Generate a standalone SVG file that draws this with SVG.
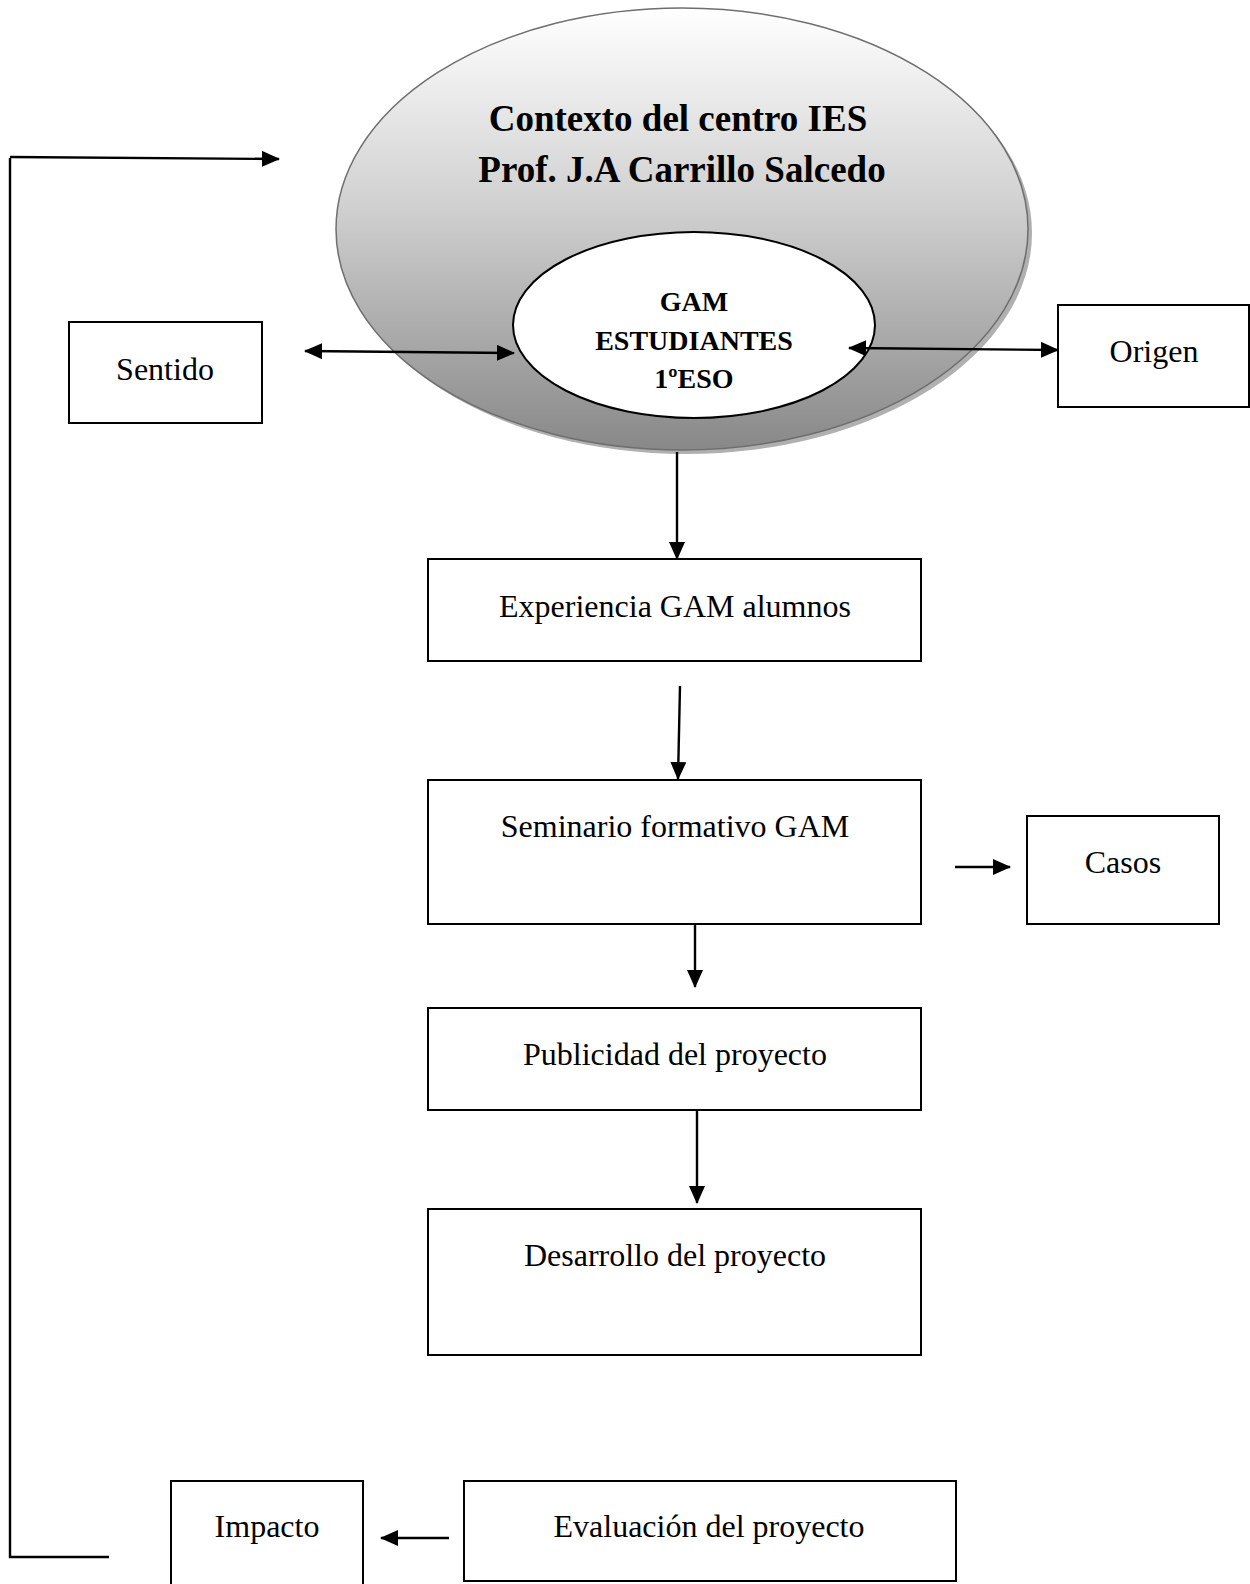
<svg xmlns="http://www.w3.org/2000/svg" width="1250" height="1584" viewBox="0 0 1250 1584">
<style>
.box{fill:#fff;stroke:#000;stroke-width:2}
.lbl{font-family:"Liberation Serif","Times New Roman",serif;font-size:32px;fill:#000;text-anchor:middle}
.bold{font-family:"Liberation Serif","Times New Roman",serif;font-weight:bold;fill:#000;text-anchor:middle}
.con{fill:none;stroke:#000;stroke-width:2.4}
</style>
<defs>
<linearGradient id="g" x1="0" y1="0" x2="0" y2="1">
<stop offset="0" stop-color="#ffffff"/>
<stop offset="0.45" stop-color="#d0d0d0"/>
<stop offset="1" stop-color="#888888"/>
</linearGradient>
<marker id="ah" viewBox="0 0 18 16" refX="17" refY="8" markerWidth="18" markerHeight="16" markerUnits="userSpaceOnUse" orient="auto-start-reverse">
<path d="M0,0 L18,8 L0,16 Z" fill="#000"/>
</marker>
</defs>
<g id="contexto">
<ellipse cx="686" cy="233" rx="346" ry="221" fill="#b0b0b0"/>
<ellipse cx="682" cy="229" rx="346" ry="221" fill="url(#g)" stroke="#6e6e6e" stroke-width="1.5"/>
<text class="bold" x="678" y="131" font-size="37">Contexto del centro IES</text>
<text class="bold" x="682" y="182" font-size="37">Prof. J.A Carrillo Salcedo</text>
</g>
<g id="gam">
<ellipse cx="694" cy="325" rx="181" ry="93" fill="#fff" stroke="#000" stroke-width="2"/>
<text class="bold" x="694" y="311" font-size="28">GAM</text>
<text class="bold" x="694" y="350" font-size="28">ESTUDIANTES</text>
<text class="bold" x="694" y="388" font-size="28">1ºESO</text>
</g>
<g id="sentido">
<rect class="box" x="69" y="322" width="193" height="101"/>
<text class="lbl" x="165" y="380">Sentido</text>
</g>
<g id="origen">
<rect class="box" x="1058" y="305" width="191" height="102"/>
<text class="lbl" x="1154" y="362">Origen</text>
</g>
<g id="experiencia">
<rect class="box" x="428" y="559" width="493" height="102"/>
<text class="lbl" x="675" y="617">Experiencia GAM alumnos</text>
</g>
<g id="seminario">
<rect class="box" x="428" y="780" width="493" height="144"/>
<text class="lbl" x="675" y="837">Seminario formativo GAM</text>
</g>
<g id="casos">
<rect class="box" x="1027" y="816" width="192" height="108"/>
<text class="lbl" x="1123" y="873">Casos</text>
</g>
<g id="publicidad">
<rect class="box" x="428" y="1008" width="493" height="102"/>
<text class="lbl" x="675" y="1065">Publicidad del proyecto</text>
</g>
<g id="desarrollo">
<rect class="box" x="428" y="1209" width="493" height="146"/>
<text class="lbl" x="675" y="1266">Desarrollo del proyecto</text>
</g>
<g id="evaluacion">
<rect class="box" x="464" y="1481" width="492" height="100"/>
<text class="lbl" x="709" y="1537">Evaluación del proyecto</text>
</g>
<g id="impacto">
<rect class="box" x="171" y="1481" width="192" height="110"/>
<text class="lbl" x="267" y="1537">Impacto</text>
</g>
<g id="connectors">
<path class="con" d="M109,1557 L10,1557 L10,158"/>
<path class="con" d="M10,157 L279,159" marker-end="url(#ah)"/>
<path class="con" d="M305,351 L514,353" marker-start="url(#ah)" marker-end="url(#ah)"/>
<path class="con" d="M849,348 L1058,350" marker-start="url(#ah)" marker-end="url(#ah)"/>
<path class="con" d="M677,452 L677,559" marker-end="url(#ah)"/>
<path class="con" d="M680,686 L678,779" marker-end="url(#ah)"/>
<path class="con" d="M955,867 L1010,867" marker-end="url(#ah)"/>
<path class="con" d="M695,924 L695,987" marker-end="url(#ah)"/>
<path class="con" d="M697,1110 L697,1203" marker-end="url(#ah)"/>
<path class="con" d="M449,1538 L381,1538" marker-end="url(#ah)"/>
</g>
</svg>
